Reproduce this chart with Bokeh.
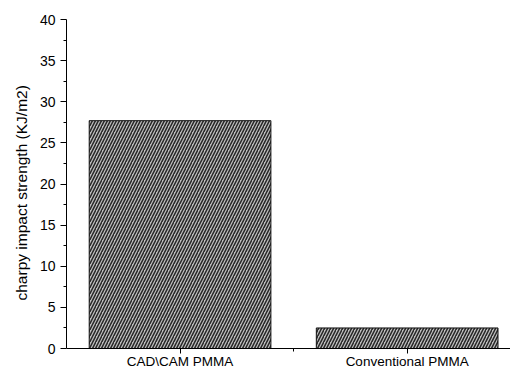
from bokeh.plotting import figure
from bokeh.models import Range1d, FixedTicker, ColumnDataSource, Title
from bokeh.embed import file_html
from bokeh.resources import INLINE

# Charpy impact strength of two PMMA denture base materials
materials = ["CAD\\CAM PMMA", "Conventional PMMA"]
positions = [1, 2]
strength = [27.7, 2.5]
y_ticks = [0, 5, 10, 15, 20, 25, 30, 35, 40]

FONT = "Liberation Sans"

source = ColumnDataSource(data=dict(x=positions, top=strength, name=materials))

# the frame runs to the bottom edge; the category axis sits at y = 0
p = figure(
    width=510, height=369,
    output_backend="svg", toolbar_location=None,
    x_range=Range1d(0.5, 2.455), y_range=Range1d(-2.55, 40),
    min_border_left=66, min_border_right=0, min_border_top=19, min_border_bottom=0,
)
p.outline_line_color = None
p.grid.visible = False
p.background_fill_color = "white"
p.border_fill_color = "white"

p.vbar(
    x="x", top="top", width=0.8, bottom=0, source=source,
    fill_color="#bdbdbd", line_color="#111111", line_width=1,
    hatch_pattern="/", hatch_color="#262626", hatch_scale=6, hatch_weight=1.5,
)

# x axis pinned at y = 0 with category names under the bars
xa = p.xaxis[0]
xa.fixed_location = 0
xa.ticker = FixedTicker(ticks=positions, minor_ticks=[1.5])
xa.major_label_overrides = {pos: name for pos, name in zip(positions, materials)}
xa.major_tick_out = 5
xa.major_tick_in = 0
xa.minor_tick_out = 3
xa.minor_tick_in = 0
xa.major_label_standoff = 0
xa.major_label_text_font = FONT
xa.major_label_text_font_size = "13.5px"
xa.major_label_text_color = "black"
xa.axis_line_color = "black"

# y axis
ya = p.yaxis[0]
ya.bounds = (0, 40)
ya.ticker = FixedTicker(ticks=y_ticks, minor_ticks=[v + 2.5 for v in y_ticks[:-1]])
ya.major_tick_out = 6
ya.major_tick_in = 0
ya.minor_tick_out = 3
ya.minor_tick_in = 0
ya.major_label_standoff = 5
ya.major_label_text_font = FONT
ya.major_label_text_font_size = "14px"
ya.major_label_text_color = "black"
ya.axis_line_color = "black"

# y-axis title, anchored a fixed distance above the frame bottom
ytitle = Title(
    text="charpy impact strength (KJ/m2)", align="left", offset=69,
    text_font=FONT, text_font_size="15.5px", text_font_style="normal",
    text_color="black", standoff=14,
)
p.add_layout(ytitle, "left")

open("out.html", "w").write(file_html(p, INLINE))
